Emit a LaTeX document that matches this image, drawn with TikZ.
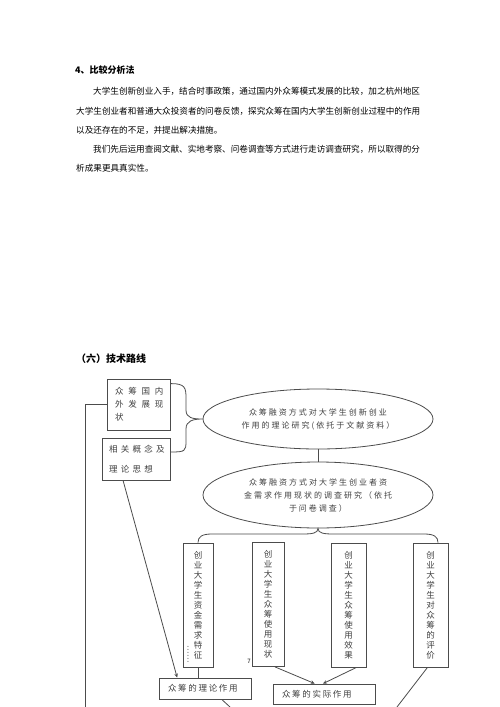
\documentclass[tikz,border=0pt]{standalone}
\usepackage{fontspec}
\setmainfont{Noto Sans CJK SC}
\usetikzlibrary{arrows.meta,positioning,calc,shapes.geometric}

\begin{document}
\begin{tikzpicture}[x=1pt,y=-1pt,
  every node/.style={inner sep=0pt},
  body/.style={anchor=west,font=\fontsize{8.6}{10}\selectfont},
  head/.style={anchor=west,font=\fontsize{9}{10}\selectfont\bfseries},
  line/.style={draw=black!70,line width=0.8pt},
  tbox/.style={draw=black!70,line width=0.8pt,align=left,text=black!75},
  ring/.style={draw=black!70,line width=0.8pt,ellipse,align=center,text=black!75,font=\fontsize{8}{13}\selectfont\addfontfeature{LetterSpace=25}},
  colbox/.style={draw=black!70,line width=0.8pt,align=center,text=black!75,minimum height=124pt,font=\fontsize{8.5}{10}\selectfont},
  rolebox/.style={draw=black!70,line width=0.8pt,align=left,text=black!75,inner xsep=9pt,font=\fontsize{8.5}{10}\selectfont\addfontfeature{LetterSpace=20}},
  arrow/.style={line,-{Stealth[length=4pt,width=3.5pt]}}]
  \fill[white] (0,0) rectangle (500,707);
  \useasboundingbox (0,0) rectangle (500,707);

  % text above the diagram
  \node[head] (h4) at (75,70) {4、比较分析法};
  \node[body] (p1) at (93,91) {大学生创新创业入手，结合时事政策，通过国内外众筹模式发展的比较，加之杭州地区};
  \node[body] (p2) at (76,111) {大学生创业者和普通大众投资者的问卷反馈，探究众筹在国内大学生创新创业过程中的作用};
  \node[body] (p3) at (76,130) {以及还存在的不足，并提出解决措施。};
  \node[body] (p4) at (93,149) {我们先后运用查阅文献、实地考察、问卷调查等方式进行走访调查研究，所以取得的分};
  \node[body] (p5) at (76,168) {析成果更具真实性。};
  \node[head,font=\fontsize{10}{10}\selectfont\bfseries] (h6) at (76,359) {（六）技术路线};

  % left boxes
  \node[tbox,minimum width=63pt,minimum height=51pt,font=\fontsize{8.5}{13}\selectfont\addfontfeature{LetterSpace=56}] (abroad) at (139.3,404.5) {众筹国内\\外发展现\\状};
  \node[tbox,minimum width=68pt,minimum height=42pt,font=\fontsize{8.5}{20}\selectfont\addfontfeature{LetterSpace=38}] (concept) at (136.8,459) {相关概念及\\理论思想};

  % ellipses
  \node[ring,minimum width=230pt,minimum height=60pt] (theory) at (318,419) {众筹融资方式对大学生创新创业\\作用的理论研究(依托于文献资料）};
  \node[ring,minimum width=230pt,minimum height=66pt] (survey) at (318,495) {众筹融资方式对大学生创业者资\\金需求作用现状的调查研究（依托\\于问卷调查）};

  % columns
  \node[colbox,minimum width=30pt] (need) at (198,605) {创\\业\\大\\学\\生\\资\\金\\需\\求\\特\\征};
  \node[colbox,minimum width=32pt] (usage) at (268,604.5) {创\\业\\大\\学\\生\\众\\筹\\使\\用\\现\\状};
  \node[colbox,minimum width=35pt] (effect) at (348.5,605) {创\\业\\大\\学\\生\\众\\筹\\使\\用\\效\\果};
  \node[colbox,minimum width=35pt] (review) at (430.5,605) {创\\业\\大\\学\\生\\对\\众\\筹\\的\\评\\价};
  \node[rotate=-90,text=black!65,font=\fontsize{8}{8}\selectfont] (dots) at (188,654) {……};
  \node[font=\fontsize{6}{6}\selectfont] (pnum) at (249,661) {7};

  % bottom boxes
  \node[rolebox,text width=74pt,minimum height=21pt] (role) at (205,688.5) {众筹的理论作用};
  \node[rolebox,text width=84pt,minimum height=20pt] (practice) at (324,694) {众筹的实际作用};

  \coordinate (edge) at (85,707);
  \coordinate (roleout) at (230,707);
  \coordinate (reviewout) at (397,707);

  % connectors
  \draw[line] ($(abroad.north east)+(0,5)$) .. controls +(14,0) and +(0,-10) .. (186,398) -- (186,410)
    .. controls +(0,8) and +(-10,0) .. (theory.west)
    .. controls +(-10,0) and +(0,-8) .. (186,429) -- (186,441)
    .. controls +(0,10) and +(14,0) .. ($(concept.east)+(0,-7)$);
  \draw[line] (theory) -- (survey);
  \draw[line] (need.north) .. controls +(0,-6) and +(-10,0) .. (212,534) -- (302,534)
    .. controls +(10,0) and +(0,5) .. (survey.south)
    .. controls +(0,5) and +(-10,0) .. (334,534) -- (424,534)
    .. controls +(10,0) and +(0,-6) .. ($(review.north)+(7.5,0)$);
  \draw[line] (abroad.west) -| (edge);
  \draw[arrow] ($(concept.south west)!0.3!(concept.south east)$) -- ($(role.north west)!0.2!(role.north east)$);
  \draw[line] (need.south) -- (need.south |- role.north);
  \draw[arrow] ($(usage.south)+(7,0)$) -- ($(practice.north west)!0.41!(practice.north east)$);
  \draw[arrow] ($(effect.south)+(8,0)$) -- ($(practice.north west)!0.49!(practice.north east)$);
  \draw[line] ($(review.south)+(-3,0)$) -- (reviewout);
  \draw[line] ($(role.south west)!0.68!(role.south east)$) -- (roleout);
\end{tikzpicture}
\end{document}
